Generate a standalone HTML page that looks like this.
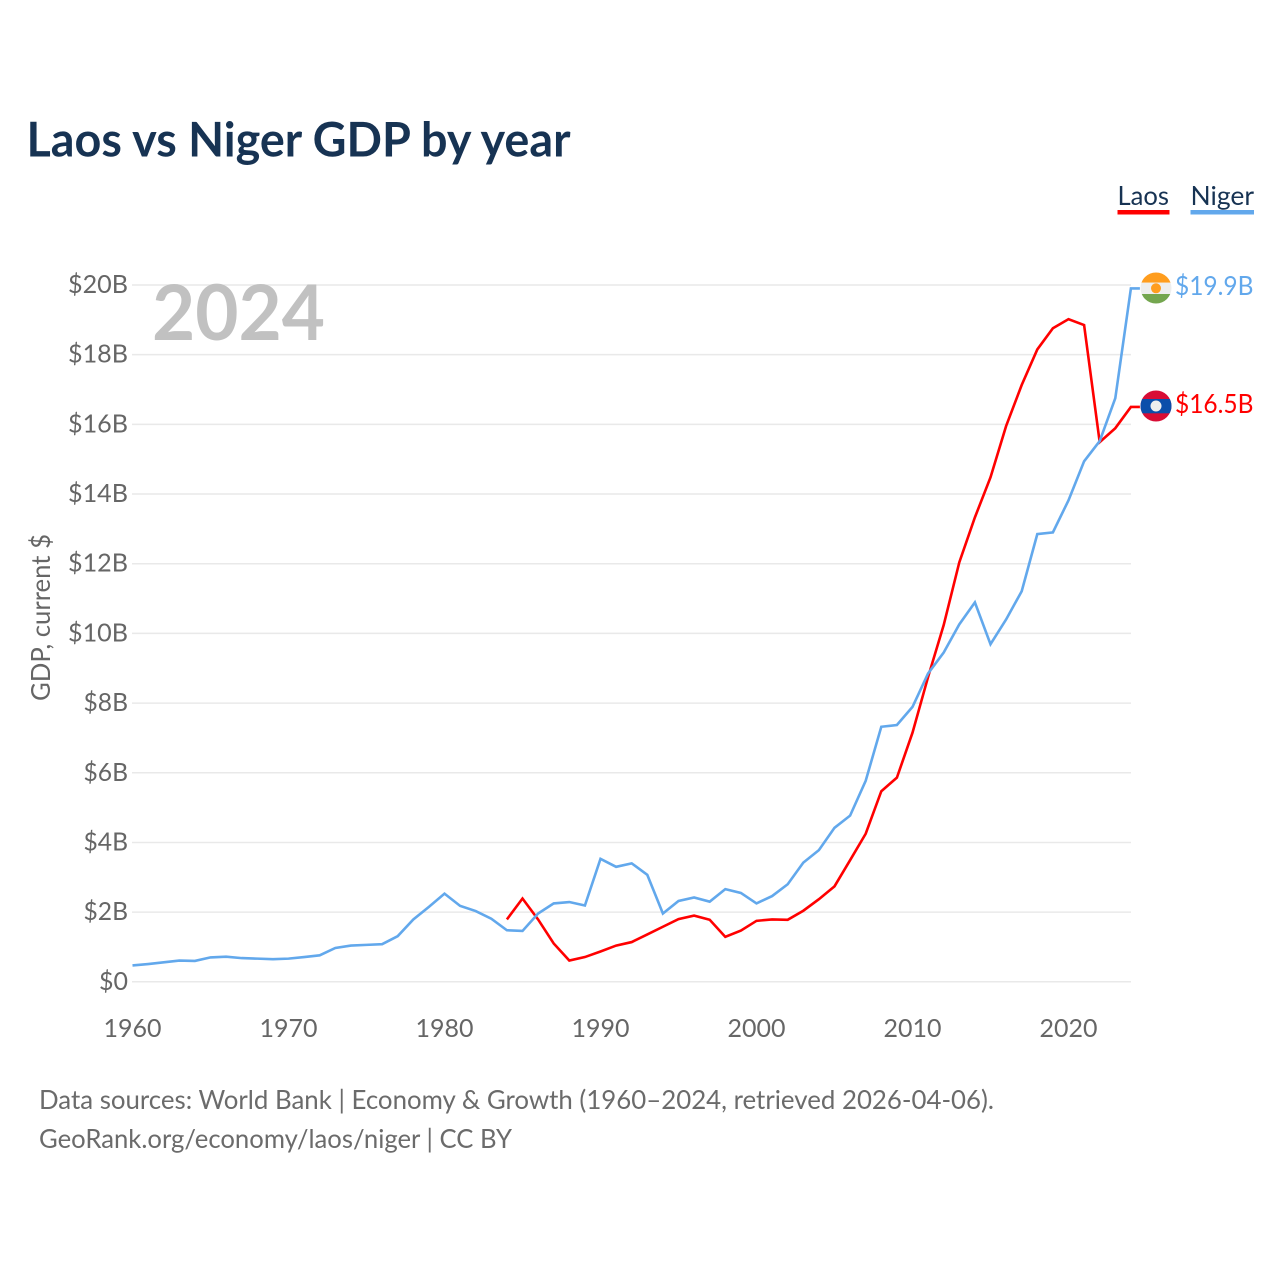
<!DOCTYPE html>
<html lang="en">
<head>
<meta charset="utf-8">
<title>Laos vs Niger GDP by year</title>
<style>
html,body{margin:0;padding:0;background:#fff;width:1280px;height:1280px;overflow:hidden}
svg{display:block}
text{font-family:"Lato","Carlito","Liberation Sans",sans-serif}
</style>
</head>
<body>
<svg id="chart" xmlns="http://www.w3.org/2000/svg" width="1280" height="1280" viewBox="0 0 1280 1280">
  <defs>
    <clipPath id="clip-niger"><circle cx="1156" cy="288" r="15.5"/></clipPath>
    <clipPath id="clip-laos"><circle cx="1156" cy="406" r="15.5"/></clipPath>
  </defs>
  <text x="26.5" y="156.5" font-size="47.5" font-weight="700" fill="#173353" textLength="544" lengthAdjust="spacingAndGlyphs">Laos vs Niger GDP by year</text>

  <g>
    <g>
      <text x="1117.5" y="205" font-size="26" fill="#173353" textLength="51.5" lengthAdjust="spacingAndGlyphs">Laos</text>
      <rect x="1117.5" y="210" width="52" height="4.5" fill="#ff0000"/>
    </g>
    <g>
      <text x="1190.5" y="205" font-size="26" fill="#173353" textLength="63.5" lengthAdjust="spacingAndGlyphs">Niger</text>
      <rect x="1190.5" y="210" width="63.5" height="4.5" fill="#62a8ec"/>
    </g>
  </g>

  <g id="grid"></g>
  <g id="yticks"></g>
  <g id="xticks"></g>

  <text x="152" y="340" font-size="77" font-weight="700" fill="#c1c1c1" textLength="173" lengthAdjust="spacingAndGlyphs">2024</text>
  <text transform="translate(50,701) rotate(-90)" font-size="26" fill="#666666" textLength="167" lengthAdjust="spacingAndGlyphs">GDP, current $</text>

  <g id="series"></g>

  <g clip-path="url(#clip-niger)">
    <rect x="1140" y="272" width="32" height="10.7" fill="#ff9d1e"/>
    <rect x="1140" y="282.7" width="32" height="11.3" fill="#eeeeee"/>
    <rect x="1140" y="294" width="32" height="10" fill="#74a64f"/>
    <circle cx="1156" cy="288.3" r="5" fill="#ff9d1e"/>
  </g>
  <g clip-path="url(#clip-laos)">
    <rect x="1140" y="390" width="32" height="32" fill="#d80d35"/>
    <rect x="1140" y="399" width="32" height="14.3" fill="#0b4eaa"/>
    <circle cx="1156" cy="406" r="5.5" fill="#eeeeee"/>
  </g>
  <text id="label-niger" x="1175" y="295" font-size="26" fill="#62a8ec" textLength="78.5" lengthAdjust="spacingAndGlyphs">$19.9B</text>
  <text id="label-laos" x="1175" y="413" font-size="26" fill="#ff0000" textLength="78.5" lengthAdjust="spacingAndGlyphs">$16.5B</text>

  <text x="39" y="1109" font-size="26" fill="#6b6b6b" textLength="955" lengthAdjust="spacingAndGlyphs">Data sources: World Bank | Economy &amp; Growth (1960–2024, retrieved 2026-04-06).</text>
  <text x="39" y="1148" font-size="26" fill="#6b6b6b" textLength="473" lengthAdjust="spacingAndGlyphs">GeoRank.org/economy/laos/niger | CC BY</text>
</svg>
<script>
const yTickValues = [0, 2, 4, 6, 8, 10, 12, 14, 16, 18, 20];
const yTickLabels = ["$0", "$2B", "$4B", "$6B", "$8B", "$10B", "$12B", "$14B", "$16B", "$18B", "$20B"];
const xTickYears = [1960, 1970, 1980, 1990, 2000, 2010, 2020];
const nigerStartYear = 1960;
const nigerValues = [0.47,0.51,0.56,0.61,0.60,0.70,0.72,0.68,0.665,0.65,0.665,0.71,0.76,0.97,1.04,1.06,1.08,1.31,1.79,2.15,2.53,2.18,2.03,1.81,1.48,1.46,1.96,2.25,2.29,2.19,3.53,3.30,3.40,3.07,1.96,2.32,2.42,2.30,2.66,2.55,2.25,2.46,2.80,3.42,3.78,4.42,4.77,5.77,7.32,7.37,7.89,8.85,9.45,10.26,10.89,9.69,10.40,11.21,12.85,12.90,13.82,14.94,15.52,16.75,19.90];
const laosStartYear = 1984;
const laosValues = [1.79,2.39,1.79,1.10,0.61,0.71,0.87,1.04,1.14,1.36,1.58,1.80,1.90,1.78,1.29,1.47,1.75,1.79,1.78,2.04,2.37,2.74,3.49,4.25,5.47,5.86,7.15,8.75,10.24,12.04,13.33,14.48,15.95,17.13,18.15,18.76,19.02,18.85,15.49,15.89,16.50];

const SVG_NS = "http://www.w3.org/2000/svg";
function xScale(year) { return 132.5 + (year - 1960) * 15.6; }
function yScale(value) { return 981.8 - value * 34.84; }
function make(tag, parent) {
  const el = document.createElementNS(SVG_NS, tag);
  parent.appendChild(el);
  return el;
}
const gridGroup = document.getElementById("grid");
const yGroup = document.getElementById("yticks");
const xGroup = document.getElementById("xticks");
const seriesGroup = document.getElementById("series");

yTickValues.forEach(function (v, i) {
  const line = make("line", gridGroup);
  
  
  line.setAttribute("x1", 132);
  line.setAttribute("x2", 1131);
  line.setAttribute("y1", yScale(v));
  line.setAttribute("y2", yScale(v));
  line.setAttribute("stroke", "#e9e9e9");
  line.setAttribute("stroke-width", "1.5");
  const t = make("text", yGroup);
  
  
  t.setAttribute("x", 128);
  t.setAttribute("y", yScale(v) + 8);
  t.setAttribute("text-anchor", "end");
  t.setAttribute("font-size", "25");
  t.setAttribute("fill", "#666666");
  t.setAttribute("textLength", yTickLabels[i].length * 15.5 - 2);
  t.setAttribute("lengthAdjust", "spacingAndGlyphs");
  t.textContent = yTickLabels[i];
});

xTickYears.forEach(function (year) {
  const t = make("text", xGroup);
  
  
  t.setAttribute("x", xScale(year));
  t.setAttribute("y", 1037);
  t.setAttribute("text-anchor", "middle");
  t.setAttribute("font-size", "25");
  t.setAttribute("fill", "#666666");
  t.textContent = String(year);
});

function seriesPath(startYear, values) {
  const parts = values.map(function (v, i) {
    return (i ? "L" : "M") + xScale(startYear + i).toFixed(2) + " " + yScale(v).toFixed(2);
  });
  const lastValue = values[values.length - 1];
  parts.push("L" + (xScale(startYear + values.length - 1) + 9).toFixed(2) + " " + yScale(lastValue).toFixed(2));
  return parts.join(" ");
}

const laosLine = make("path", seriesGroup);


laosLine.setAttribute("d", seriesPath(laosStartYear, laosValues));
laosLine.setAttribute("fill", "none");
laosLine.setAttribute("stroke", "#ff0000");
laosLine.setAttribute("stroke-width", "2.6");

const nigerLine = make("path", seriesGroup);


nigerLine.setAttribute("d", seriesPath(nigerStartYear, nigerValues));
nigerLine.setAttribute("fill", "none");
nigerLine.setAttribute("stroke", "#62a8ec");
nigerLine.setAttribute("stroke-width", "2.6");

document.getElementById("label-niger").textContent = "$" + nigerValues[nigerValues.length - 1].toFixed(1) + "B";
document.getElementById("label-laos").textContent = "$" + laosValues[laosValues.length - 1].toFixed(1) + "B";
</script>
</body>
</html>
